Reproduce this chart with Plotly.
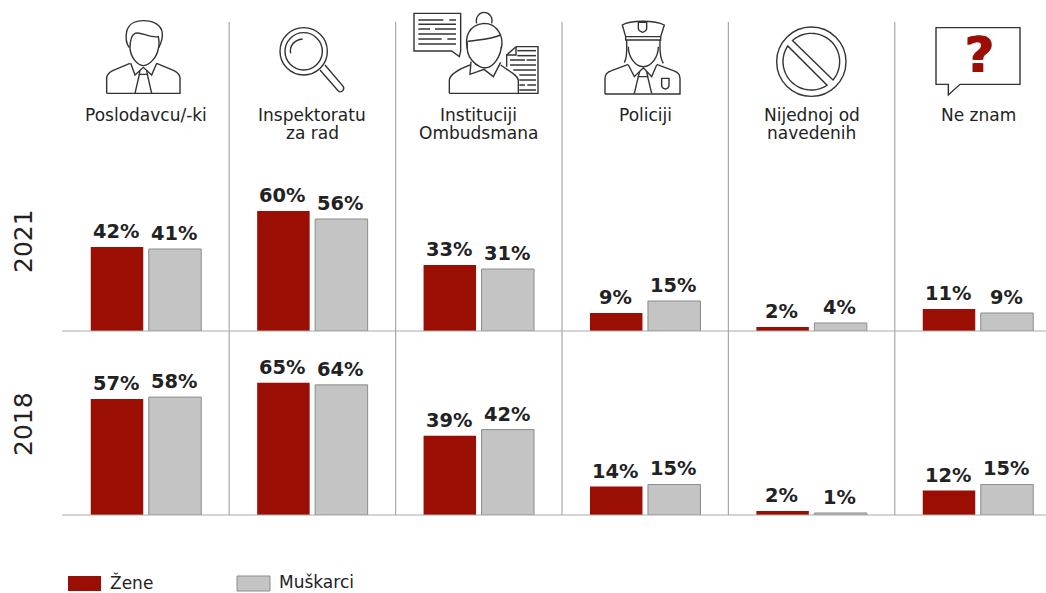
import math
import re
import plotly.graph_objects as go

categories = [
    ["Poslodavcu/-ki"],
    ["Inspektoratu", "za rad"],
    ["Instituciji", "Ombudsmana"],
    ["Policiji"],
    ["Nijednoj od", "navedenih"],
    ["Ne znam"],
]
positions = [0, 1, 2, 3, 4, 5]
women_2021 = [42, 60, 33, 9, 2, 11]
men_2021 = [41, 56, 31, 15, 4, 9]
women_2018 = [57, 65, 39, 14, 2, 12]
men_2018 = [58, 64, 42, 15, 1, 15]
series_names = ["Žene", "Muškarci"]
years = ["2021", "2018"]

W, H = 1046, 593
RED = "#9b0e03"
GRAY = "#c4c4c4"
GRAY_EDGE = "#8c8c8c"
RULE = "#a9a9a9"
INK = "#222222"
ICON = "#333333"
FONT = "DejaVu Sans"


def px(x):
    return x / W


def py(y):
    return 1 - y / H


annotations = []


def add_bars(fig, values, name, color, edge, yaxis, shift):
    fig.add_trace(go.Bar(
        x=positions, y=values, name=name, yaxis=yaxis, xaxis="x",
        marker=dict(color=color, line=dict(color=edge, width=1 if edge != color else 0)),
        showlegend=False, offsetgroup=name, cliponaxis=False,
    ))
    # Value labels sit just above each bar
    for pos, value in zip(positions, values):
        annotations.append(dict(
            text=f"{value}%", x=pos, y=value, xref="x", yref=yaxis,
            xshift=shift, yshift=2, yanchor="bottom", xanchor="center", showarrow=False,
            font=dict(family=FONT, size=19.4, color=INK, weight="bold"),
        ))


fig = go.Figure()
add_bars(fig, women_2021, series_names[0], RED, RED, "y", -30)
add_bars(fig, men_2021, series_names[1], GRAY, GRAY_EDGE, "y", 28)
add_bars(fig, women_2018, series_names[0], RED, RED, "y2", -30)
add_bars(fig, men_2018, series_names[1], GRAY, GRAY_EDGE, "y2", 28)

shapes = []


def stroke(d, ox, oy, fill=None, width=1.4, color=ICON):
    """Icon outline: path numbers are in thirds of a pixel, relative to (ox, oy)."""
    nums = iter(re.findall(r"-?\d+\.?\d*|[MLCQZ]", d))
    out = []
    is_x = True
    for tok in nums:
        if tok in "MLCQZ":
            out.append(tok)
        elif is_x:
            out.append(f"{px(ox + float(tok) / 3):.5f},")
            is_x = False
        else:
            out.append(f"{py(oy + float(tok) / 3):.5f}")
            is_x = True
    shapes.append(dict(
        type="path", xref="paper", yref="paper", path=" ".join(out),
        line=dict(color=color, width=width),
        fillcolor=fill if fill else "rgba(0,0,0,0)",
    ))


def ring(cx, cy, r, ox, oy, width=1.4):
    shapes.append(dict(
        type="circle", xref="paper", yref="paper",
        x0=px(ox + (cx - r) / 3), x1=px(ox + (cx + r) / 3),
        y0=py(oy + (cy + r) / 3), y1=py(oy + (cy - r) / 3),
        line=dict(color=ICON, width=width),
    ))


def arc_path(cx, cy, r, x0, y0, x1, y1):
    a0 = math.atan2(y0 - cy, x0 - cx)
    a1 = math.atan2(y1 - cy, x1 - cx)
    if a1 < a0:
        a1 += 2 * math.pi
    steps = 36
    pts = [(cx + r * math.cos(a0 + (a1 - a0) * i / steps),
            cy + r * math.sin(a0 + (a1 - a0) * i / steps)) for i in range(steps + 1)]
    return "M" + " L".join(f"{x:.1f},{y:.1f}" for x, y in pts) + " Z"


# Employer: man in a shirt and tie
o = (100, 15)
for d in [
    "M20,235 L240,235 L240,190 C240,178 232,172 222,167 L170,145",
    "M20,235 L20,190 C20,178 28,172 38,167 L90,145",
    "M88,98 C78,85 77,65 80,50 C85,28 105,17 130,17 C160,17 185,30 187,55 C188,70 183,85 176,98",
    "M90,100 C90,80 92,62 105,55 C120,48 150,70 175,65 C178,80 178,90 175,100 C172,125 150,150 130,152 C110,150 92,125 90,100 Z",
    "M92,145 L105,180 L130,157 L155,180 L170,145",
    "M120,165 L118,178 L142,178 L140,165",
    "M118,178 L105,235",
    "M142,178 L155,235",
]:
    stroke(d, *o)

# Labour inspectorate: magnifying glass
o = (270, 15)
ring(101, 109, 71, *o)
ring(101, 109, 56, *o)
stroke("M62,115 C58,95 70,75 98,72", *o)
stroke("M150,165 L205,228 C212,235 225,225 220,215 L165,150", *o)

# Ombudsman: woman, speech bubble and document
o = (410, 5)
for d in [
    "M12,25 L152,25 L152,138 L148,155 L125,138 L12,138 Z",
    "M200,55 C195,35 210,22 222,22 C236,22 250,35 245,55",
    "M172,130 C165,100 172,60 222,55 C262,55 282,95 274,130",
    "M172,110 C190,105 240,105 272,90",
    "M172,112 C170,130 172,150 185,165 C200,185 220,190 230,188 C250,185 272,155 274,125",
    "M183,170 L180,208 L222,193 L250,215 L272,172",
    "M118,265 L325,265 L325,225 C322,210 300,200 272,180",
    "M118,265 L118,225 C120,210 140,195 180,180",
    "M318,125 L384,125 L384,265 L325,265",
    "M318,125 L290,150 L290,185",
    "M318,125 L318,150 L290,150",
]:
    stroke(d, *o)
for y, a, b in [(45, 25, 100), (45, 118, 138), (58, 25, 138), (72, 25, 60), (72, 75, 138),
                (87, 25, 138), (102, 25, 95), (102, 112, 138), (117, 25, 138),
                (137, 322, 378), (152, 322, 378), (165, 300, 345), (165, 350, 378),
                (180, 300, 378), (195, 310, 378), (210, 328, 378), (225, 328, 378),
                (240, 328, 345), (240, 352, 378), (255, 328, 378)]:
    stroke(f"M{a},{y} L{b},{y}", *o, width=1.5)

# Police: officer with cap and badge
o = (595, 15)
for d in [
    "M82,30 C105,15 180,15 208,30 L197,65 L92,65 Z",
    "M92,65 L92,75 L197,75 L197,65",
    "M130,22 L155,22 L155,40 C155,48 143,52 143,52 C143,52 130,48 130,40 Z",
    "M95,75 C95,100 98,125 88,143",
    "M195,75 C195,100 192,125 205,145",
    "M100,95 C100,125 120,155 145,155 C170,155 190,125 190,95",
    "M100,150 L118,185 L145,158 L170,185 L185,150",
    "M134,170 L130,185 L158,185 L155,170",
    "M130,185 L118,235",
    "M158,185 L170,235",
    "M30,237 L255,237 L255,190 C255,178 245,170 235,167 L185,148",
    "M30,237 L30,190 C30,178 40,170 50,167 L100,148",
    "M200,190 L222,190 L222,210 C222,220 211,222 211,222 C211,222 200,220 200,210 Z",
]:
    stroke(d, *o)

# None of the above: prohibition sign
o = (770, 15)
ring(124, 140, 104, *o)
stroke(arc_path(124, 140, 85, 67, 76, 188, 194), *o)
stroke(arc_path(124, 140, 85, 172, 212, 52, 92), *o)

# Don't know: speech bubble around a question mark
o = (925, 15)
stroke("M33,38 L285,38 L285,208 L105,208 L70,240 L70,208 L33,208 Z", *o)

# Column separators and the legend swatches
for boundary in [0.5, 1.5, 2.5, 3.5, 4.5]:
    shapes.append(dict(
        type="line", xref="x", yref="paper", x0=boundary, x1=boundary,
        y0=py(515), y1=py(22), line=dict(color=RULE, width=1.2),
    ))
for x0, x1, color, edge, lw in [(68, 101, RED, RED, 0), (237, 270, GRAY, GRAY_EDGE, 1)]:
    shapes.append(dict(
        type="rect", xref="paper", yref="paper",
        x0=px(x0), x1=px(x1), y0=py(591), y1=py(576),
        fillcolor=color, line=dict(color=edge, width=lw),
    ))


def note(text, x, y, size, xref="paper", **kw):
    font = dict(family=FONT, size=size, color=kw.pop("color", INK), weight=kw.pop("weight", "normal"))
    if "shadow" in kw:
        font["shadow"] = kw.pop("shadow")
    annotations.append(dict(
        text=text, x=x, y=y, xref=xref, yref="paper", showarrow=False, font=font,
        xanchor=kw.pop("xanchor", "center"), yanchor="middle", **kw,
    ))


for pos, lines in zip(positions, categories):
    for row, line in enumerate(lines):
        note(line, pos, py(115 + 18 * row), 17, xref="x")

note(years[0], px(23), py(241), 25, textangle=-90)
note(years[1], px(23), py(424), 25, textangle=-90)
note(series_names[0], px(108), py(582), 17, xanchor="left")
note(series_names[1], px(277), py(582), 17, xanchor="left")
note("?", px(979), py(55), 50, color=RED, weight="bold",
     shadow=f"1px 0 0 {RED}, -1px 0 0 {RED}")

axis_off = dict(showgrid=False, zeroline=False, showticklabels=False, ticks="", fixedrange=True)
fig.update_layout(
    width=W, height=H, margin=dict(l=0, r=0, t=0, b=0),
    paper_bgcolor="white", plot_bgcolor="white",
    barmode="group", bargap=0.303, bargroupgap=0.095,
    shapes=shapes, annotations=annotations, showlegend=False,
    xaxis=dict(domain=[px(62), 1], range=[(62 - 146) / 166.4, (W - 146) / 166.4],
               anchor="y", showline=False, **axis_off),
    yaxis=dict(domain=[py(331), py(151)], range=[0, 90], anchor="x",
               showline=False, **axis_off),
    yaxis2=dict(domain=[py(515), py(332)], range=[0, 90], anchor="x",
                showline=False, **axis_off),
)
# Baselines of the two panels
for y_val in [331, 515]:
    fig.add_shape(type="line", xref="paper", yref="paper", x0=px(62), x1=1,
                  y0=py(y_val), y1=py(y_val), line=dict(color=RULE, width=1.2), layer="above")

fig.write_html("out.html", config=dict(displayModeBar=False))
